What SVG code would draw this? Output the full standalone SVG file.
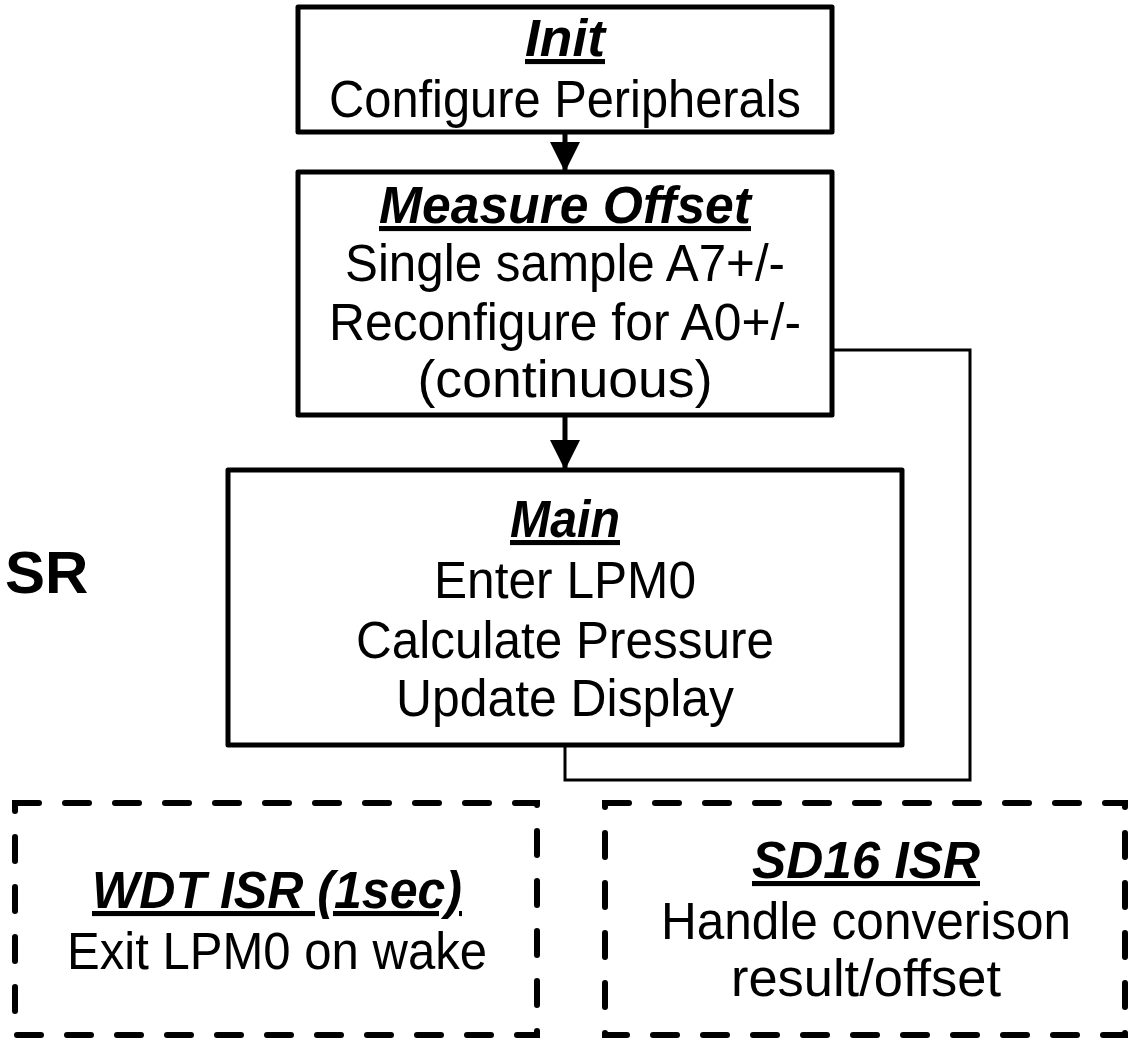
<svg xmlns="http://www.w3.org/2000/svg" width="1131" height="1043" viewBox="0 0 1131 1043">
<defs>
<style>
.box{fill:#fff;stroke:#000;stroke-width:5;stroke-linejoin:round}
.dash{fill:none;stroke:#000;stroke-width:6;stroke-linecap:round;stroke-dasharray:24 26}
.t{font-family:"Liberation Sans",Arial,sans-serif;font-size:51px;fill:#000;text-anchor:middle}
.h{font-weight:bold;font-style:italic;text-decoration:underline}
.conn{fill:none;stroke:#000;stroke-width:3}
.arr{fill:none;stroke:#000;stroke-width:5}
</style>
<marker id="ah" viewBox="0 0 10 10" refX="10" refY="5" markerWidth="7.2" markerHeight="6" markerUnits="strokeWidth" orient="auto">
<path d="M0,0 L10,5 L0,10 z" fill="#000"/>
</marker>
</defs>
<g id="connectors">
<line class="arr" x1="565" y1="132" x2="565" y2="172" marker-end="url(#ah)"/>
<line class="arr" x1="565" y1="415" x2="565" y2="470" marker-end="url(#ah)"/>
<polyline class="conn" points="832,350 970,350 970,780 565,780 565,745"/>
</g>
<g id="init">
<rect class="box" x="298" y="7" width="534" height="125"/>
<text class="t h" x="565" y="56" textLength="80" lengthAdjust="spacingAndGlyphs">Init</text>
<text class="t" x="565" y="117" textLength="472" lengthAdjust="spacingAndGlyphs">Configure Peripherals</text>
</g>
<g id="measure">
<rect class="box" x="298" y="172" width="534" height="243"/>
<text class="t h" x="565" y="223" textLength="372" lengthAdjust="spacingAndGlyphs">Measure Offset</text>
<text class="t" x="565" y="281" textLength="440" lengthAdjust="spacingAndGlyphs">Single sample A7+/-</text>
<text class="t" x="565" y="340" textLength="472" lengthAdjust="spacingAndGlyphs">Reconfigure for A0+/-</text>
<text class="t" x="565" y="397" textLength="295" lengthAdjust="spacingAndGlyphs">(continuous)</text>
</g>
<g id="main">
<rect class="box" x="228" y="470" width="674" height="275"/>
<text class="t h" x="565" y="537" textLength="110" lengthAdjust="spacingAndGlyphs">Main</text>
<text class="t" x="565" y="598" textLength="262" lengthAdjust="spacingAndGlyphs">Enter LPM0</text>
<text class="t" x="565" y="658" textLength="418" lengthAdjust="spacingAndGlyphs">Calculate Pressure</text>
<text class="t" x="565" y="716" textLength="338" lengthAdjust="spacingAndGlyphs">Update Display</text>
</g>
<g id="sr">
<text x="5" y="593" style="font-family:'Liberation Sans',Arial,sans-serif;font-size:60px;font-weight:bold">SR</text>
</g>
<g id="wdt">
<rect class="dash" x="15" y="803" width="522" height="232"/>
<text class="t h" x="277" y="908" textLength="370" lengthAdjust="spacingAndGlyphs">WDT ISR (1sec)</text>
<text class="t" x="277" y="969" textLength="420" lengthAdjust="spacingAndGlyphs">Exit LPM0 on wake</text>
</g>
<g id="sd16">
<rect class="dash" x="605" y="803" width="520" height="232"/>
<text class="t h" x="866" y="878" textLength="228" lengthAdjust="spacingAndGlyphs">SD16 ISR</text>
<text class="t" x="866" y="939" textLength="410" lengthAdjust="spacingAndGlyphs">Handle converison</text>
<text class="t" x="866" y="996" textLength="270" lengthAdjust="spacingAndGlyphs">result/offset</text>
</g>
</svg>
